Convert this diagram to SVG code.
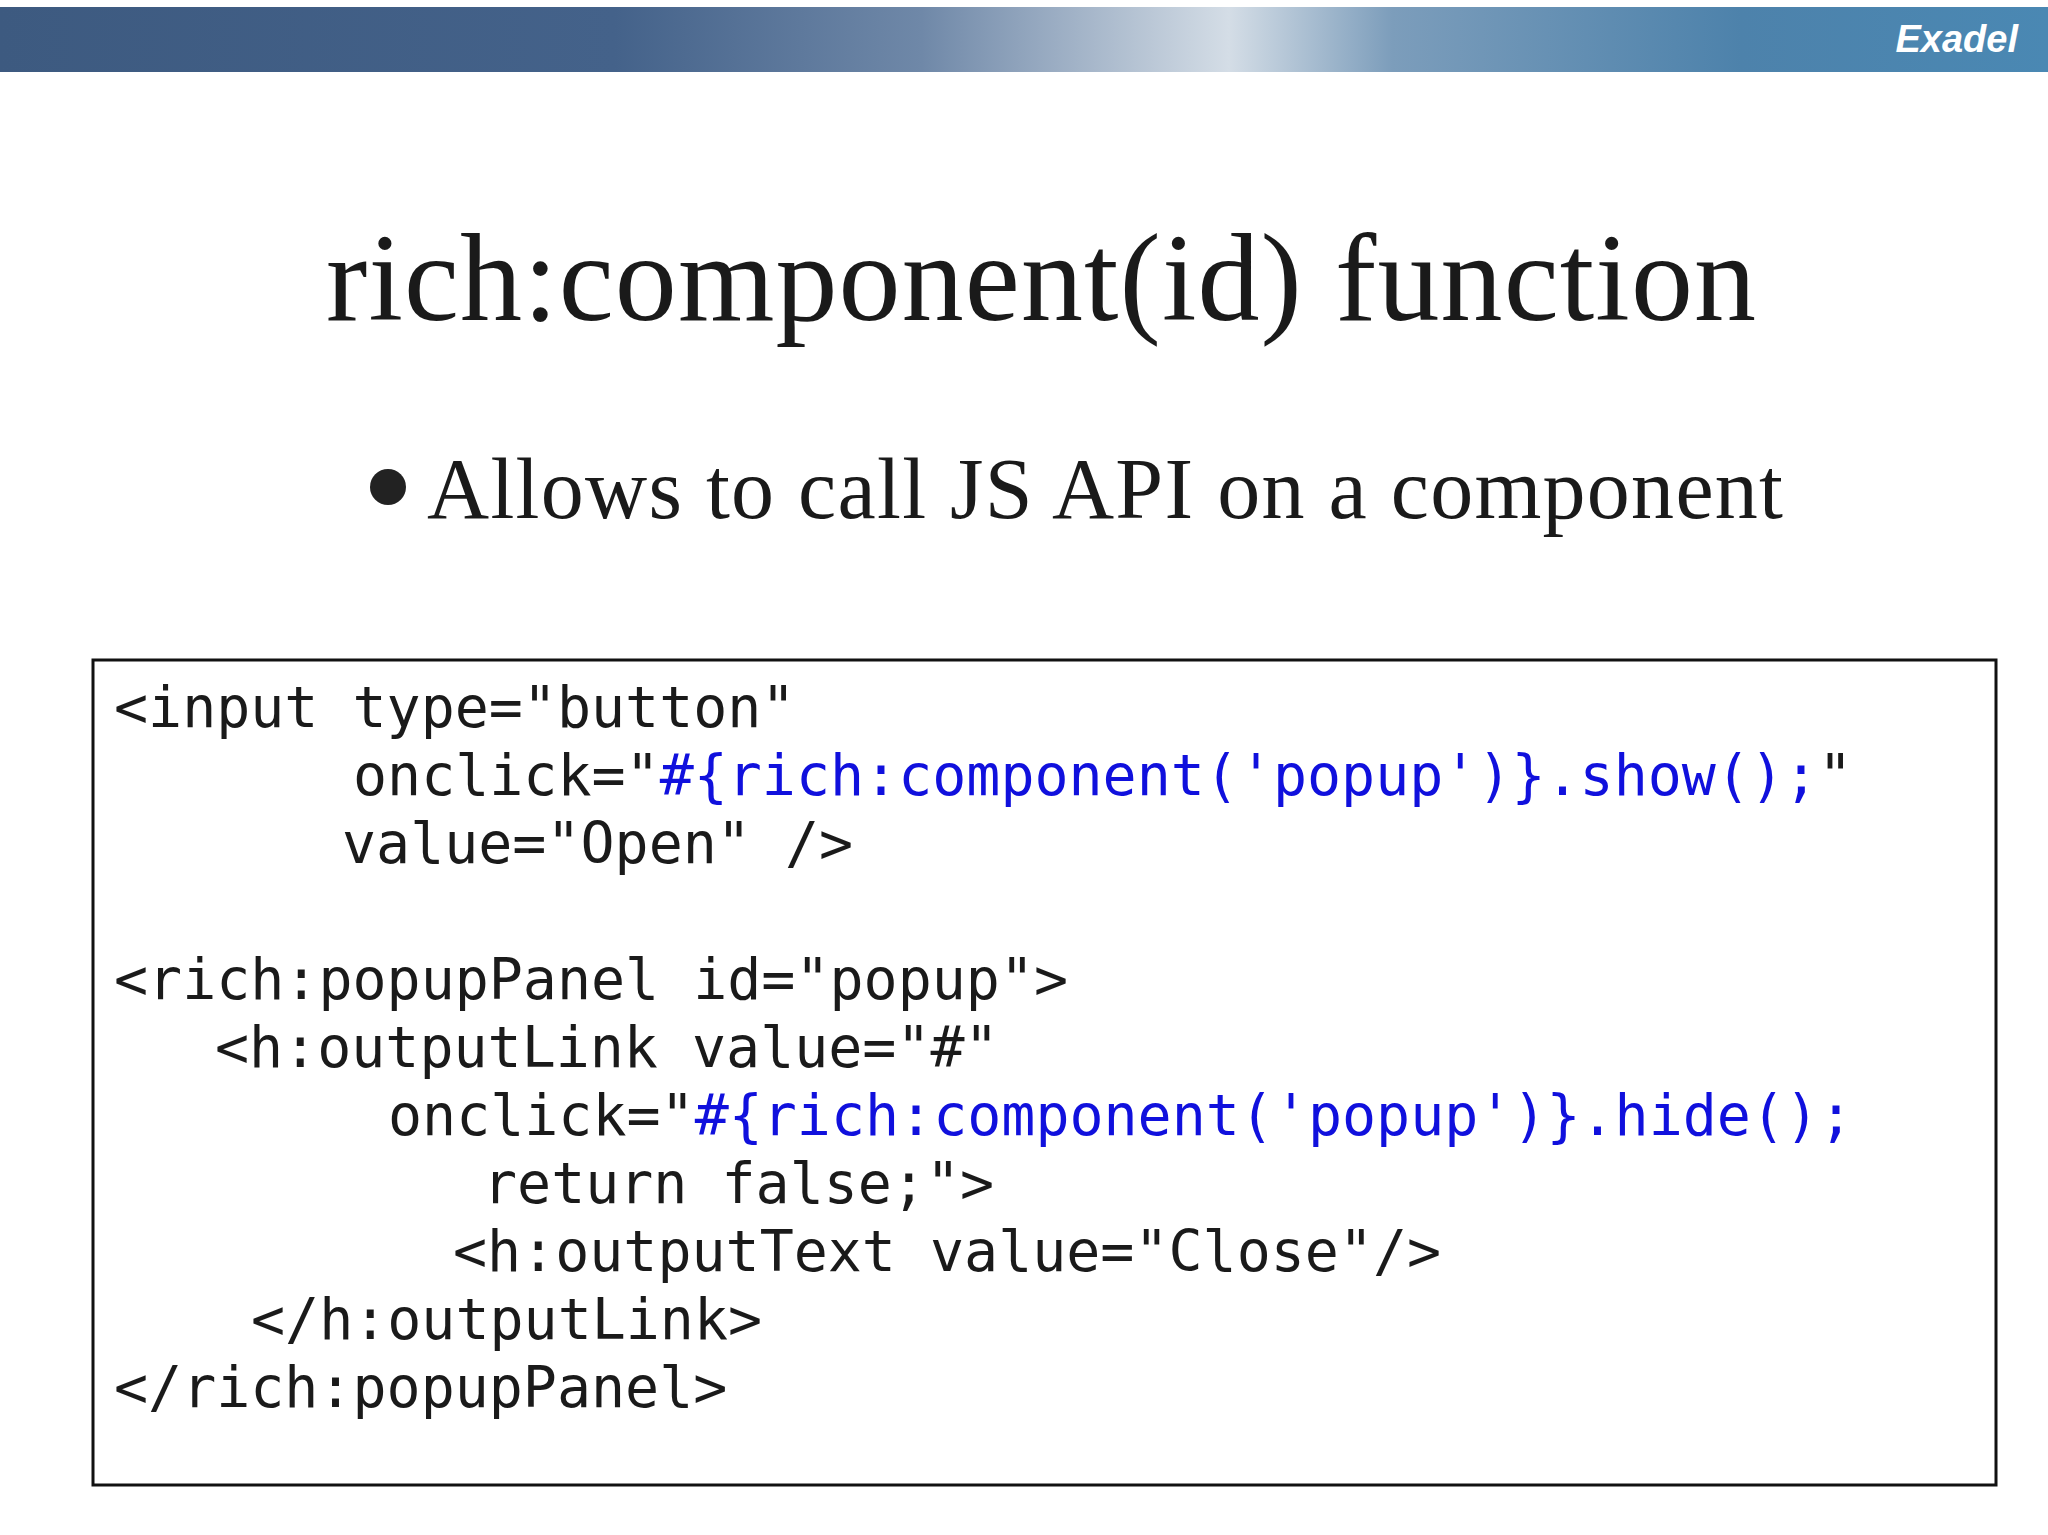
<svg xmlns="http://www.w3.org/2000/svg" width="2048" height="1535" viewBox="0 0 2048 1535">
<defs>
<linearGradient id="hdr" x1="0" y1="0" x2="1" y2="0">
<stop offset="0" stop-color="#3d5a80"/>
<stop offset="0.3" stop-color="#44628a"/>
<stop offset="0.45" stop-color="#6f88a8"/>
<stop offset="0.6" stop-color="#d4dde6"/>
<stop offset="0.68" stop-color="#7c9dbb"/>
<stop offset="0.85" stop-color="#4d82ab"/>
<stop offset="1" stop-color="#4a88b3"/>
</linearGradient>
<style>
.code{font-family:"DejaVu Sans Mono",monospace;font-size:56.6px;fill:#1a1a1a}
.b{fill:#1010dd}
</style>
</defs>
<rect width="2048" height="1535" fill="#fff"/>
<g id="header">
<rect x="0" y="7" width="2048" height="65" fill="url(#hdr)"/>
<text x="2018" y="52" text-anchor="end" font-family="Liberation Sans,sans-serif" font-weight="bold" font-style="italic" font-size="38" fill="#fff">Exadel</text>
</g>
<g id="title">
<text x="326" y="320" font-family="Liberation Serif,serif" font-size="124" fill="#1a1a1a" textLength="1430">rich:component(id) function</text>
</g>
<g id="bullet">
<circle cx="388" cy="487" r="18" fill="#222"/>
<text x="427" y="518" font-family="Liberation Serif,serif" font-size="86" fill="#1a1a1a" textLength="1356">Allows to call JS API on a component</text>
</g>
<g id="codebox">
<rect x="93" y="660" width="1903" height="825" fill="#fff" stroke="#111" stroke-width="3"/>
<text class="code" x="114" y="727">&lt;input type="button"</text>
<text class="code" x="353" y="795">onclick="<tspan class="b">#{rich:component('popup')}.show();</tspan>"</text>
<text class="code" x="342" y="863">value="Open" /&gt;</text>
<text class="code" x="114" y="999">&lt;rich:popupPanel id="popup"&gt;</text>
<text class="code" x="215" y="1067">&lt;h:outputLink value="#"</text>
<text class="code" x="388" y="1135">onclick="<tspan class="b">#{rich:component('popup')}.hide();</tspan></text>
<text class="code" x="483" y="1203">return false;"&gt;</text>
<text class="code" x="453" y="1271">&lt;h:outputText value="Close"/&gt;</text>
<text class="code" x="251" y="1339">&lt;/h:outputLink&gt;</text>
<text class="code" x="114" y="1407">&lt;/rich:popupPanel&gt;</text>
</g>
</svg>
